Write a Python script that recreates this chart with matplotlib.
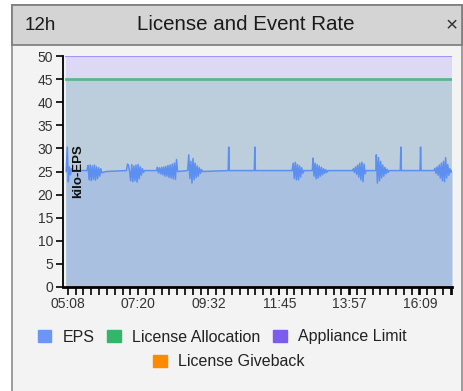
import matplotlib
matplotlib.use("Agg")
import matplotlib.pyplot as plt
from matplotlib.patches import Rectangle, Patch
from matplotlib.ticker import FixedLocator, FuncFormatter

plt.rcParams["font.family"] = ["Liberation Sans", "DejaVu Sans"]

# ── Data (time in minutes of day, values in kilo-EPS) ─────────────────────────
T_START, T_END = 305, 1029
X_MIN, X_MAX = 299, 1029
TICK_LABEL_MIN = [308, 440, 572, 705, 837, 969]      # 05:08 ... 16:09
Y_TICKS = [0, 5, 10, 15, 20, 25, 30, 35, 40, 45, 50]

APPLIANCE_LIMIT = 50
LICENSE_ALLOCATION = 45

EPS_T = [305, 307, 309, 311, 313, 315, 317, 344,
         346, 348, 350, 352, 354, 356, 358, 360, 362, 364, 366, 368, 370, 372, 374, 380, 418,
         420, 422, 424, 426, 428, 430, 432, 434, 436, 438, 440, 442, 444, 446, 448, 450, 452, 475,
         476, 478, 480, 482, 484, 486, 488, 490, 492, 494, 496, 498, 500, 502, 504, 506, 508, 510, 512, 514, 533,
         535, 537, 539, 541, 543, 545, 547, 549, 551, 553, 555, 557, 559, 561, 608,
         609, 610, 611, 658, 659, 660, 729,
         731, 733, 735, 737, 739, 741, 743, 745, 747, 749, 751, 767,
         768, 770, 772, 774, 776, 778, 780, 782, 784, 786, 788, 790, 792, 794, 796, 843,
         844, 846, 848, 850, 852, 854, 856, 858, 860, 862, 864, 866, 868, 886,
         887, 889, 891, 893, 895, 897, 899, 901, 903, 905, 907, 909, 911, 931,
         932, 933, 934, 969, 970, 971, 995,
         997, 999, 1001, 1003, 1005, 1007, 1009, 1011, 1013, 1015, 1017, 1019, 1021, 1023, 1025, 1027, 1029]
EPS_V = [25.0, 30.3, 22.8, 26.0, 24.3, 25.6, 25.2, 25.2,
         26.3, 23.2, 26.4, 23.0, 26.2, 23.3, 26.4, 23.1, 26.0, 23.5, 25.8, 24.0, 25.6, 24.7, 24.8, 25.0, 25.2,
         26.6, 26.3, 25.0, 23.0, 26.5, 22.8, 26.2, 23.0, 26.4, 22.7, 26.5, 23.4, 26.0, 24.2, 25.6, 24.8, 25.2, 25.2,
         25.9, 24.7, 25.8, 24.5, 25.9, 24.3, 26.0, 24.0, 26.1, 24.0, 26.3, 23.7, 26.4, 23.6, 26.6, 23.4, 26.8, 23.3, 27.6, 25.0, 25.2,
         28.6, 23.5, 27.2, 22.5, 27.8, 23.2, 26.8, 23.7, 26.2, 24.0, 25.8, 24.6, 25.4, 25.0, 25.2,
         25.2, 30.3, 25.2, 25.2, 30.3, 25.2, 25.2,
         26.8, 23.5, 27.0, 23.2, 26.5, 23.2, 26.2, 23.8, 25.8, 24.6, 25.2, 25.2,
         27.9, 24.0, 26.8, 23.4, 26.5, 23.6, 26.2, 24.0, 25.9, 24.3, 25.6, 24.6, 25.4, 24.8, 25.2, 25.2,
         25.6, 24.8, 26.0, 24.4, 26.4, 23.8, 26.8, 23.2, 27.0, 22.8, 26.6, 24.5, 25.2, 25.2,
         28.6, 22.5, 28.0, 23.0, 27.2, 23.6, 26.4, 24.0, 25.9, 24.5, 25.5, 24.8, 25.2, 25.2,
         25.2, 30.3, 25.2, 25.2, 30.3, 25.2, 25.2,
         25.7, 24.6, 26.0, 24.2, 26.4, 23.6, 26.8, 23.0, 27.2, 22.8, 28.0, 23.6, 26.5, 24.2, 25.6, 24.8, 25.2]

LEGEND_ROW1 = ["EPS", "License Allocation", "Appliance Limit"]
LEGEND_ROW2 = ["License Giveback"]
COLORS = {"EPS": "#6b96f5", "License Allocation": "#33b56a",
          "Appliance Limit": "#7b5cec", "License Giveback": "#ff8a00"}

W, H = 463, 391
fig = plt.figure(figsize=(W / 100, H / 100), dpi=100, facecolor="white")


def fx(px):
    return px / W


def fy(py):
    return 1 - py / H


# panel frame + title bar (drawn behind the axes)
fig.add_artist(Rectangle((fx(12), fy(395)), fx(462) - fx(12), fy(5) - fy(395),
                         transform=fig.transFigure, facecolor="#f3f3f3",
                         edgecolor="#8c8c8c", linewidth=1.2, zorder=-2))
fig.add_artist(Rectangle((fx(12), fy(45)), fx(462) - fx(12), fy(5) - fy(45),
                         transform=fig.transFigure, facecolor="#d4d4d4",
                         edgecolor="#7a7a7a", linewidth=1.2, zorder=-1))
fig.text(fx(25), fy(25), "12h", fontsize=13.5, color="#1a1a1a", va="center", ha="left")
fig.text(fx(246), fy(25), "License and Event Rate", fontsize=14.8, color="#1a1a1a",
         va="center", ha="center")
fig.text(fx(452), fy(26), "\u00d7", fontsize=15, color="#333333", va="center", ha="center")

ax = fig.add_axes([fx(63), fy(287), fx(452) - fx(63), fy(56) - fy(287)])
ax.set_facecolor("#eef1f6")

ax.fill_between([T_START, T_END], 0, APPLIANCE_LIMIT, color="#ddd8f4", linewidth=0)
ax.plot([T_START, T_END], [APPLIANCE_LIMIT] * 2, color="#a395f3", linewidth=1.5)
ax.fill_between([T_START, T_END], 0, LICENSE_ALLOCATION, color="#bccedc", linewidth=0)
ax.fill_between(EPS_T, 0, EPS_V, color="#aac0e1", linewidth=0)
ax.plot([T_START, T_END], [LICENSE_ALLOCATION] * 2, color="#5fb592", linewidth=2)
ax.plot(EPS_T, EPS_V, color="#5c8ff0", linewidth=1.1)

ax.set_xlim(X_MIN, X_MAX)
ax.set_ylim(0, 50)
ax.set_yticks(Y_TICKS)
ax.xaxis.set_major_locator(FixedLocator(TICK_LABEL_MIN))
ax.xaxis.set_major_formatter(FuncFormatter(lambda v, p: f"{int(round(v)) // 60:02d}:{int(round(v)) % 60:02d}"))
step = 132 / 9
minor = [TICK_LABEL_MIN[0] + step * k for k in range(-1, 50) if X_MIN <= TICK_LABEL_MIN[0] + step * k <= X_MAX]
ax.xaxis.set_minor_locator(FixedLocator(minor + [X_MAX]))

for s in ["top", "right"]:
    ax.spines[s].set_visible(False)
ax.spines["left"].set_linewidth(1.3)
ax.spines["bottom"].set_linewidth(2)
ax.tick_params(axis="y", length=5, width=1.2, labelsize=10, labelcolor="#333333", pad=2)
ax.tick_params(axis="x", which="both", length=6, width=1.2, labelsize=10,
               labelcolor="#333333", pad=1)

ax.text(0.038, 0.5, "kilo-EPS", transform=ax.transAxes, rotation=90, ha="center",
        va="center", fontsize=9.5, fontweight="bold", color="#111111")

kw = dict(frameon=False, fontsize=11.5, handlelength=0.85, handleheight=0.85,
          handletextpad=0.7, columnspacing=0.8, labelcolor="#222222")
h1 = [Patch(color=COLORS[n], label=n) for n in LEGEND_ROW1]
h2 = [Patch(color=COLORS[n], label=n) for n in LEGEND_ROW2]
fig.legend(handles=h1, loc="center", bbox_to_anchor=(fx(222), fy(337)), ncol=3, **kw)
fig.legend(handles=h2, loc="center", bbox_to_anchor=(fx(229), fy(362)), ncol=1, **kw)

fig.savefig("out.png", dpi=100, facecolor="white")
